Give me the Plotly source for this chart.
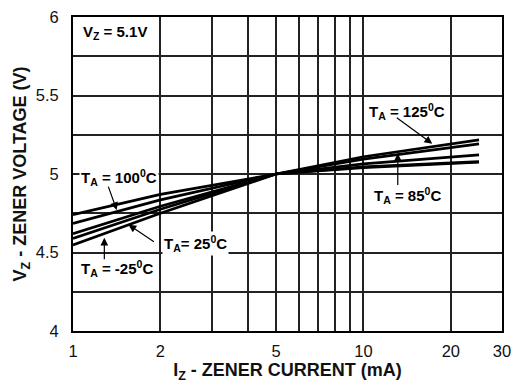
import math
import plotly.graph_objects as go

# Data
current_ma = [1, 2, 5, 10, 25]
v_125 = [4.62, 4.795, 5.0, 5.11, 5.217]
v_100 = [4.741, 4.87, 5.0, 5.095, 5.192]
v_85 = [4.685, 4.835, 5.0, 5.065, 5.122]
v_25 = [4.59, 4.775, 5.0, 5.045, 5.079]
v_m25 = [4.548, 4.75, 5.0, 5.04, 5.075]

x_grid = [1, 2, 3, 4, 5, 6, 7, 8, 9, 10, 20, 30]
x_text = ["1", "2", "", "", "5", "", "", "", "", "10", "20", "30"]
y_ticks = [4, 4.5, 5, 5.5, 6]
y_text = ["4", "4.5", "5", "5.5", "6"]

FONT = "Liberation Sans, Arial, sans-serif"
fig = go.Figure()
for name, v in [("125", v_125), ("100", v_100), ("85", v_85), ("25", v_25), ("-25", v_m25)]:
    fig.add_trace(go.Scatter(x=current_ma, y=v, mode="lines", name=name,
                             line=dict(color="black", width=2.7), showlegend=False))

fig.update_layout(
    width=523, height=391,
    margin=dict(l=73, r=21, t=8, b=60),
    paper_bgcolor="white", plot_bgcolor="white",
    font=dict(family=FONT, color="#111"),
)
fig.update_xaxes(
    type="log", range=[0, 1.4771], tickvals=x_grid, ticktext=x_text,
    showgrid=True, gridcolor="#222", gridwidth=1.6,
    showline=True, mirror=True, linecolor="black", linewidth=2,
    ticks="", tickfont=dict(size=16.5, family=FONT, color="#111"), ticklabelstandoff=4,
    title=dict(text="<b>I<sub>Z</sub> - ZENER CURRENT (mA)</b>", font=dict(size=18, family=FONT), standoff=5),
    zeroline=False,
)
fig.update_yaxes(
    range=[4, 6], tickvals=y_ticks, ticktext=y_text,
    showgrid=True, gridcolor="#222", gridwidth=1.6,
    minor=dict(dtick=0.25, showgrid=True, gridcolor="#222", gridwidth=1.6),
    showline=True, mirror=True, linecolor="black", linewidth=2,
    ticks="", tickfont=dict(size=16.5, family=FONT, color="#111"), ticklabelstandoff=9,
    title=dict(text="<b>V<sub>Z</sub> - ZENER VOLTAGE (V)</b>", font=dict(size=18, family=FONT), standoff=4),
    zeroline=False,
)

def label(text, x, y, bg=True):
    fig.add_annotation(x=x, y=y, xref="x", yref="y", text="<b>" + text + "</b>",
                       showarrow=False, font=dict(size=15, family=FONT, color="black"),
                       bgcolor="white" if bg else "rgba(0,0,0,0)", borderpad=1)

def arrow(x, y, ax, ay):
    fig.add_annotation(x=x, y=y, xref="x", yref="y", ax=ax, ay=ay, text="",
                       showarrow=True, arrowhead=2, arrowsize=1.3, arrowwidth=1.2, arrowcolor="black")

L = math.log10

label("V<sub>Z</sub> = 5.1V", L(1.396), 5.901, bg=False)
label("T<sub>A</sub> = 100<sup>0</sup>C", L(1.441), 4.975)
label("T<sub>A</sub> = 125<sup>0</sup>C", L(14.07), 5.395)
label("T<sub>A</sub> = 85<sup>0</sup>C", L(14.23), 4.86)
label("T<sub>A</sub>= 25<sup>0</sup>C", L(2.635), 4.555)
label("T<sub>A</sub> = -25<sup>0</sup>C", L(1.413), 4.395)

arrow(L(1.415), 4.770, -9, -25)
arrow(L(17.26), 5.193, -37, -27)
arrow(L(13.13), 5.131, 0, 33)
arrow(L(1.552), 4.677, 27, 18)
arrow(L(1.282), 4.594, 0, 23)

fig.write_html("out.html")
